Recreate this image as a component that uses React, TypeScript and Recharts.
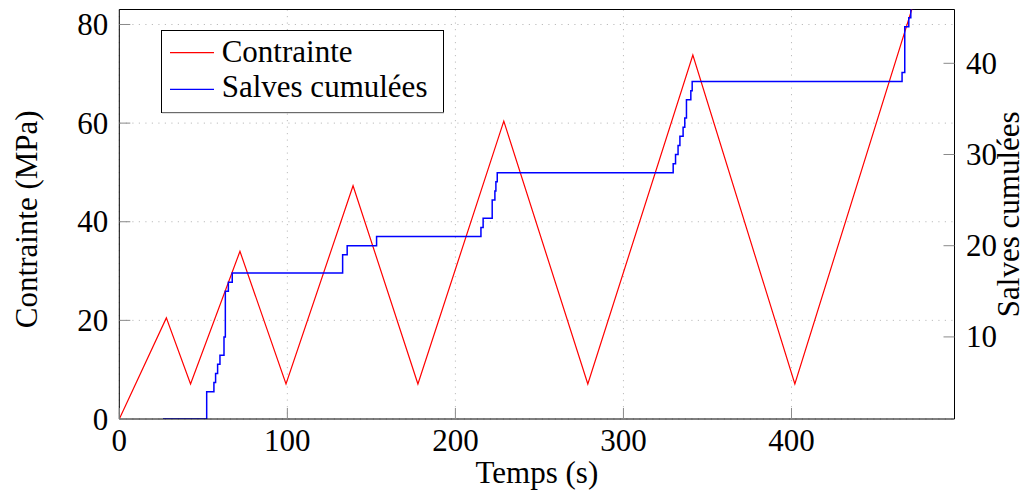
import React from 'react';
import { LineChart, Line, XAxis, YAxis, CartesianGrid, ReferenceLine, Legend } from 'recharts';

// Contrainte (MPa) vs time (s)
const stressTime = [0, 28.0, 42.4, 71.8, 99.2, 139.1, 177.7, 228.8, 278.8, 341.3, 402.0, 474.0];
const stressValue = [0, 20.5, 7.1, 34.0, 7.1, 47.3, 7.1, 60.4, 7.1, 73.8, 7.1, 85.7];

// Salves cumulées (count) vs time (s), step after
const burstTime = [
  26.0, 52.0, 56.3, 57.3, 58.5, 59.9, 62.3, 63.1, 64.9, 67.2,
  132.9, 135.6, 153.1, 215.2, 216.5, 221.9, 223.5, 224.1, 224.9,
  329.6, 331.0, 332.5, 333.6, 335.5, 336.5, 337.5, 340.1, 340.9,
  465.8, 467.4, 469.8, 471.0, 473.0,
];
const burstCount = [
  1, 4, 5, 6, 7, 8, 10, 15, 16, 17,
  19, 20, 21, 22, 23, 25, 26, 27, 28,
  29, 30, 31, 32, 33, 34, 36, 37, 38,
  39, 44, 45, 46, 47,
];

const xTicks = [0, 100, 200, 300, 400];
const leftTicks = [0, 20, 40, 60, 80];
const rightTicks = [10, 20, 30, 40];
const xDomain: [number, number] = [0, 497];
const leftDomain: [number, number] = [0, 83.04];
const rightDomain: [number, number] = [1, 45.9];

const seriesNames = ['Contrainte', 'Salves cumulées'];
const seriesColors = ['#ff0000', '#0000ff'];
const xLabelText = 'Temps (s)';
const leftLabelText = 'Contrainte (MPa)';
const rightLabelText = 'Salves cumulées';

const stressData = stressTime.map((t, i) => ({ t, s: stressValue[i] }));
const burstData = burstTime.map((t, i) => ({ t, n: burstCount[i] }));

const FONT = '"Liberation Serif", "Times New Roman", serif';
const FS = 31;
const TICK_GRAY = '#8a8a8a';

const XTick = (p: any) => {
  const { x, y, payload } = p;
  return (
    <g>
      <line x1={x} y1={y} x2={x} y2={y - 11} stroke={TICK_GRAY} strokeWidth={1} />
      <text x={x} y={y + 31.7} textAnchor="middle" fontFamily={FONT} fontSize={FS} fill="#000">
        {payload.value}
      </text>
    </g>
  );
};

const LeftTick = (p: any) => {
  const { x, y, payload } = p;
  return (
    <g>
      <line x1={x} y1={y} x2={x + 11} y2={y} stroke={TICK_GRAY} strokeWidth={1} />
      <text x={x - 11} y={y + 10.5} textAnchor="end" fontFamily={FONT} fontSize={FS} fill="#000">
        {payload.value}
      </text>
    </g>
  );
};

const RightTick = (p: any) => {
  const { x, y, payload } = p;
  return (
    <g>
      <line x1={x} y1={y} x2={x - 11} y2={y} stroke={TICK_GRAY} strokeWidth={1} />
      <text x={x + 11.5} y={y + 10.5} textAnchor="start" fontFamily={FONT} fontSize={FS} fill="#000">
        {payload.value}
      </text>
    </g>
  );
};

const XLabel = (p: any) => {
  const vb = p.viewBox || { x: 119.3, y: 419, width: 835.2, height: 80 };
  return (
    <text x={vb.x + vb.width / 2} y={vb.y + 64.3} textAnchor="middle" fontFamily={FONT} fontSize={FS} fill="#000">
      {xLabelText}
    </text>
  );
};

const LeftLabel = (p: any) => {
  const vb = p.viewBox || { x: 0, y: 9.5, width: 119.3, height: 409.5 };
  const cx = vb.x + 37;
  const cy = vb.y + vb.height / 2 + 5;
  return (
    <text x={cx} y={cy} transform={`rotate(-90, ${cx}, ${cy})`} textAnchor="middle" fontFamily={FONT} fontSize={FS} fill="#000">
      {leftLabelText}
    </text>
  );
};

const RightLabel = (p: any) => {
  const vb = p.viewBox || { x: 954.5, y: 9.5, width: 72.5, height: 409.5 };
  const cx = vb.x + 64.5;
  const cy = vb.y + vb.height / 2;
  return (
    <text x={cx} y={cy} transform={`rotate(-90, ${cx}, ${cy})`} textAnchor="middle" fontFamily={FONT} fontSize={FS} fill="#000">
      {rightLabelText}
    </text>
  );
};

const LegendBox = () => (
  <svg width={283} height={84} style={{ display: 'block' }}>
    <rect x={0.5} y={0.5} width={282} height={82} fill="#fff" stroke="#000" strokeWidth={1} />
    <line x1={1} y1={82.8} x2={283} y2={82.8} stroke="#999" strokeWidth={1} />
    <line x1={9} y1={22.6} x2={53} y2={22.6} stroke={seriesColors[0]} strokeWidth={1.2} />
    <text x={60.7} y={32.3} fontFamily={FONT} fontSize={FS} fill="#000">{seriesNames[0]}</text>
    <line x1={9} y1={59.3} x2={53} y2={59.3} stroke={seriesColors[1]} strokeWidth={1.2} />
    <text x={60.7} y={66.5} fontFamily={FONT} fontSize={FS} fill="#000">{seriesNames[1]}</text>
  </svg>
);

export default function App() {
  return (
    <div style={{ position: 'absolute', left: 0, top: 0, width: 1027, height: 499, background: '#fff' }}>
      <LineChart width={1027} height={499} margin={{ top: 9.5, right: 0, bottom: 0, left: 0 }}>
        <CartesianGrid xAxisId="x" yAxisId="left" stroke="#bdbdbd" strokeDasharray="1.2 5.3" />
        <XAxis
          xAxisId="x"
          dataKey="t"
          type="number"
          domain={xDomain}
          ticks={xTicks}
          interval={0}
          allowDataOverflow
          height={80}
          tickSize={0}
          tickMargin={0}
          tickLine={false}
          axisLine={{ stroke: '#000', strokeWidth: 1 }}
          tick={(p: any) => <XTick {...p} />}
          label={(p: any) => <XLabel {...p} />}
        />
        <YAxis
          yAxisId="left"
          orientation="left"
          type="number"
          domain={leftDomain}
          ticks={leftTicks}
          interval={0}
          allowDataOverflow
          width={119.3}
          tickSize={0}
          tickMargin={0}
          tickLine={false}
          axisLine={{ stroke: '#000', strokeWidth: 1 }}
          tick={(p: any) => <LeftTick {...p} />}
          label={(p: any) => <LeftLabel {...p} />}
        />
        <YAxis
          yAxisId="right"
          orientation="right"
          type="number"
          domain={rightDomain}
          ticks={rightTicks}
          interval={0}
          allowDataOverflow
          width={72.5}
          tickSize={0}
          tickMargin={0}
          tickLine={false}
          axisLine={{ stroke: '#000', strokeWidth: 1 }}
          tick={(p: any) => <RightTick {...p} />}
          label={(p: any) => <RightLabel {...p} />}
        />
        <ReferenceLine xAxisId="x" yAxisId="left" y={leftDomain[1]} stroke="#000" strokeWidth={1} />
        <Line
          xAxisId="x"
          yAxisId="left"
          data={stressData}
          dataKey="s"
          name={seriesNames[0]}
          type="linear"
          stroke={seriesColors[0]}
          strokeWidth={1.2}
          dot={false}
          activeDot={false}
          isAnimationActive={false}
        />
        <Line
          xAxisId="x"
          yAxisId="right"
          data={burstData}
          dataKey="n"
          name={seriesNames[1]}
          type="stepAfter"
          stroke={seriesColors[1]}
          strokeWidth={1.5}
          dot={false}
          activeDot={false}
          isAnimationActive={false}
        />
        <Legend
          layout="horizontal"
          verticalAlign="middle"
          align="center"
          wrapperStyle={{ left: 161, top: 30.2, width: 284, height: 84 }}
          content={() => <LegendBox />}
        />
      </LineChart>
    </div>
  );
}
